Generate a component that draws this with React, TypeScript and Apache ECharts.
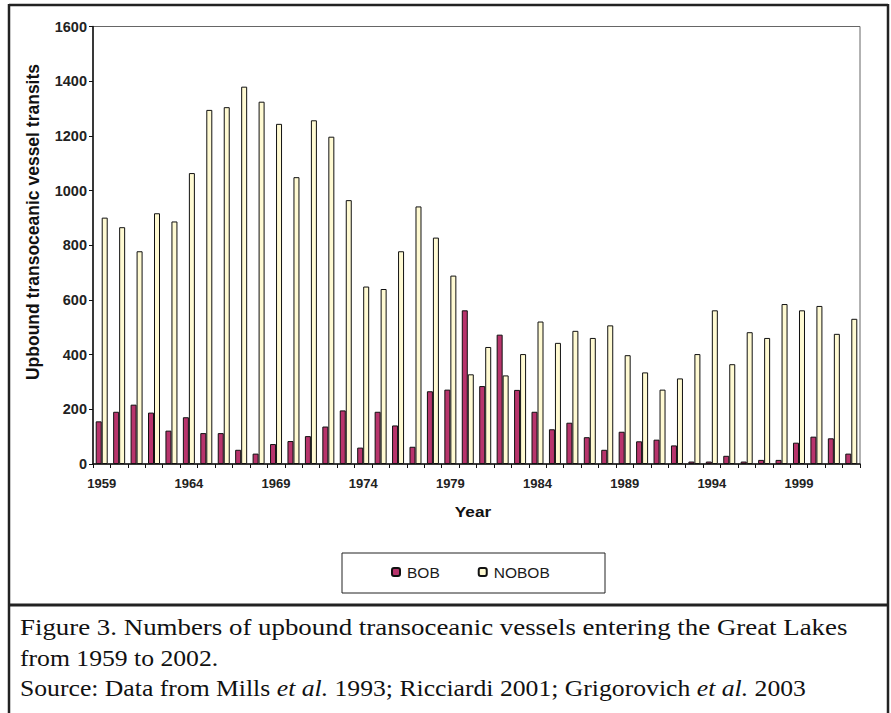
import React, { useEffect, useRef } from "react";
import * as echarts from "echarts";

const years = [
  "1959", "1960", "1961", "1962", "1963", "1964", "1965", "1966", "1967", "1968",
  "1969", "1970", "1971", "1972", "1973", "1974", "1975", "1976", "1977", "1978",
  "1979", "1980", "1981", "1982", "1983", "1984", "1985", "1986", "1987", "1988",
  "1989", "1990", "1991", "1992", "1993", "1994", "1995", "1996", "1997", "1998",
  "1999", "2000", "2001", "2002",
];

const bob = [
  156, 191, 217, 188, 122, 171, 113, 113, 52, 38,
  73, 84, 102, 137, 196, 60, 191, 141, 63, 266,
  272, 562, 285, 473, 271, 191, 127, 151, 98, 52,
  118, 83, 89, 68, 9, 9, 30, 9, 15, 15,
  78, 100, 94, 38,
];

const nobob = [
  901, 866, 778, 917, 887, 1064, 1295, 1305, 1380, 1325,
  1244, 1049, 1257, 1197, 965, 649, 640, 778, 942, 828,
  689, 328, 428, 324, 402, 521, 443, 487, 461, 507,
  398, 335, 272, 313, 402, 562, 365, 482, 461, 585,
  562, 578, 476, 531,
];

const seriesNames = ["BOB", "NOBOB"];
const yTitle = "Upbound transoceanic vessel transits";
const xTitle = "Year";
const captionLine1 = "Figure 3. Numbers of upbound transoceanic vessels entering the Great Lakes";
const captionLine2 = "from 1959 to 2002.";
const captionLine3 = "Source: Data from Mills {i|et al.} 1993; Ricciardi 2001; Grigorovich {i|et al.} 2003";

const SANS = 'Arial, "Liberation Sans", Helvetica, sans-serif';
const SERIF = '"Times New Roman", "Liberation Serif", Times, serif';

export default function App() {
  const ref = useRef<HTMLDivElement>(null);

  useEffect(() => {
    if (!ref.current) return;
    const chart = echarts.init(ref.current, null, { renderer: "svg" });
    const frameColor = "#222";
    const captionStyle = { fontFamily: SERIF, fontSize: 24, fill: "#111" };

    chart.setOption({
      animation: false,
      backgroundColor: "#fff",
      grid: {
        left: 93,
        right: 31,
        top: 26.5,
        bottom: 249,
        show: true,
        borderColor: "#666",
        borderWidth: 1,
        backgroundColor: "transparent",
      },
      legend: {
        data: seriesNames,
        left: 391,
        top: 564,
        itemWidth: 8,
        itemHeight: 8,
        itemGap: 38,
        padding: 0,
        textStyle: { fontFamily: SANS, fontSize: 15.5, color: "#1a1a1a", padding: [0, 0, 0, 2] },
      },
      xAxis: {
        type: "category",
        data: years,
        axisLine: { show: true, lineStyle: { color: "#111", width: 1.5 } },
        axisTick: { show: true, interval: 0, length: 4, alignWithLabel: false, lineStyle: { color: "#111" } },
        axisLabel: {
          interval: 4,
          margin: 13,
          fontFamily: SANS,
          fontSize: 13,
          fontWeight: "bold",
          color: "#222",
        },
        splitLine: { show: false },
      },
      yAxis: {
        type: "value",
        min: 0,
        max: 1600,
        interval: 200,
        axisLine: { show: true, lineStyle: { color: "#111", width: 1.5 } },
        axisTick: { show: true, length: 4, lineStyle: { color: "#111" } },
        axisLabel: {
          margin: 6,
          fontFamily: SANS,
          fontSize: 14.5,
          fontWeight: "bold",
          color: "#222",
          formatter: (v: number) => String(v),
        },
        splitLine: { show: false },
      },
      series: [
        {
          name: seriesNames[0],
          type: "bar",
          data: bob,
          barWidth: 6,
          barGap: "0%",
          itemStyle: { color: "#B8346C", borderColor: "#111", borderWidth: 1 },
        },
        {
          name: seriesNames[1],
          type: "bar",
          data: nobob,
          barWidth: 6,
          barGap: "0%",
          itemStyle: { color: "#FFFAD2", borderColor: "#111", borderWidth: 1 },
        },
      ],
      graphic: [
        // outer frame
        { type: "line", shape: { x1: 9, y1: 5, x2: 888, y2: 5 }, style: { stroke: frameColor, lineWidth: 2.5 } },
        { type: "line", shape: { x1: 9, y1: 4, x2: 9, y2: 713 }, style: { stroke: frameColor, lineWidth: 2.5 } },
        { type: "line", shape: { x1: 888, y1: 4, x2: 888, y2: 713 }, style: { stroke: frameColor, lineWidth: 2.5 } },
        { type: "line", shape: { x1: 9, y1: 605, x2: 888, y2: 605 }, style: { stroke: frameColor, lineWidth: 3 } },
        // legend box
        {
          type: "rect",
          shape: { x: 342, y: 553, width: 263, height: 40 },
          style: { fill: "none", stroke: "#222", lineWidth: 1 },
          z: 0,
        },
        // y axis title
        {
          type: "text",
          x: 33,
          y: 222,
          rotation: Math.PI / 2,
          style: {
            text: yTitle,
            fontFamily: SANS,
            fontSize: 17.5,
            fontWeight: "bold",
            fill: "#111",
            align: "center",
            verticalAlign: "middle",
          },
        },
        // x axis title
        {
          type: "text",
          x: 473,
          y: 511,
          scaleX: 1.11,
          style: {
            text: xTitle,
            fontFamily: SANS,
            fontSize: 15.5,
            fontWeight: "bold",
            fill: "#111",
            align: "center",
            verticalAlign: "middle",
          },
        },
        // caption (first line is justified to the full width in the reference)
        {
          type: "text",
          x: 20,
          y: 627,
          scaleX: 1.12,
          style: { ...captionStyle, text: captionLine1, verticalAlign: "middle" },
        },
        {
          type: "text",
          x: 20,
          y: 658,
          scaleX: 1.07,
          style: { ...captionStyle, text: captionLine2, verticalAlign: "middle" },
        },
        {
          type: "text",
          x: 20,
          y: 688,
          scaleX: 1.07,
          style: {
            ...captionStyle,
            text: captionLine3,
            verticalAlign: "middle",
            rich: {
              i: { fontFamily: SERIF, fontSize: 24, fontStyle: "italic", fill: "#111" },
            },
          },
        },
      ],
    });

    return () => chart.dispose();
  }, []);

  return (
    <div
      ref={ref}
      style={{ position: "absolute", left: 0, top: 0, width: 891, height: 713 }}
    />
  );
}
